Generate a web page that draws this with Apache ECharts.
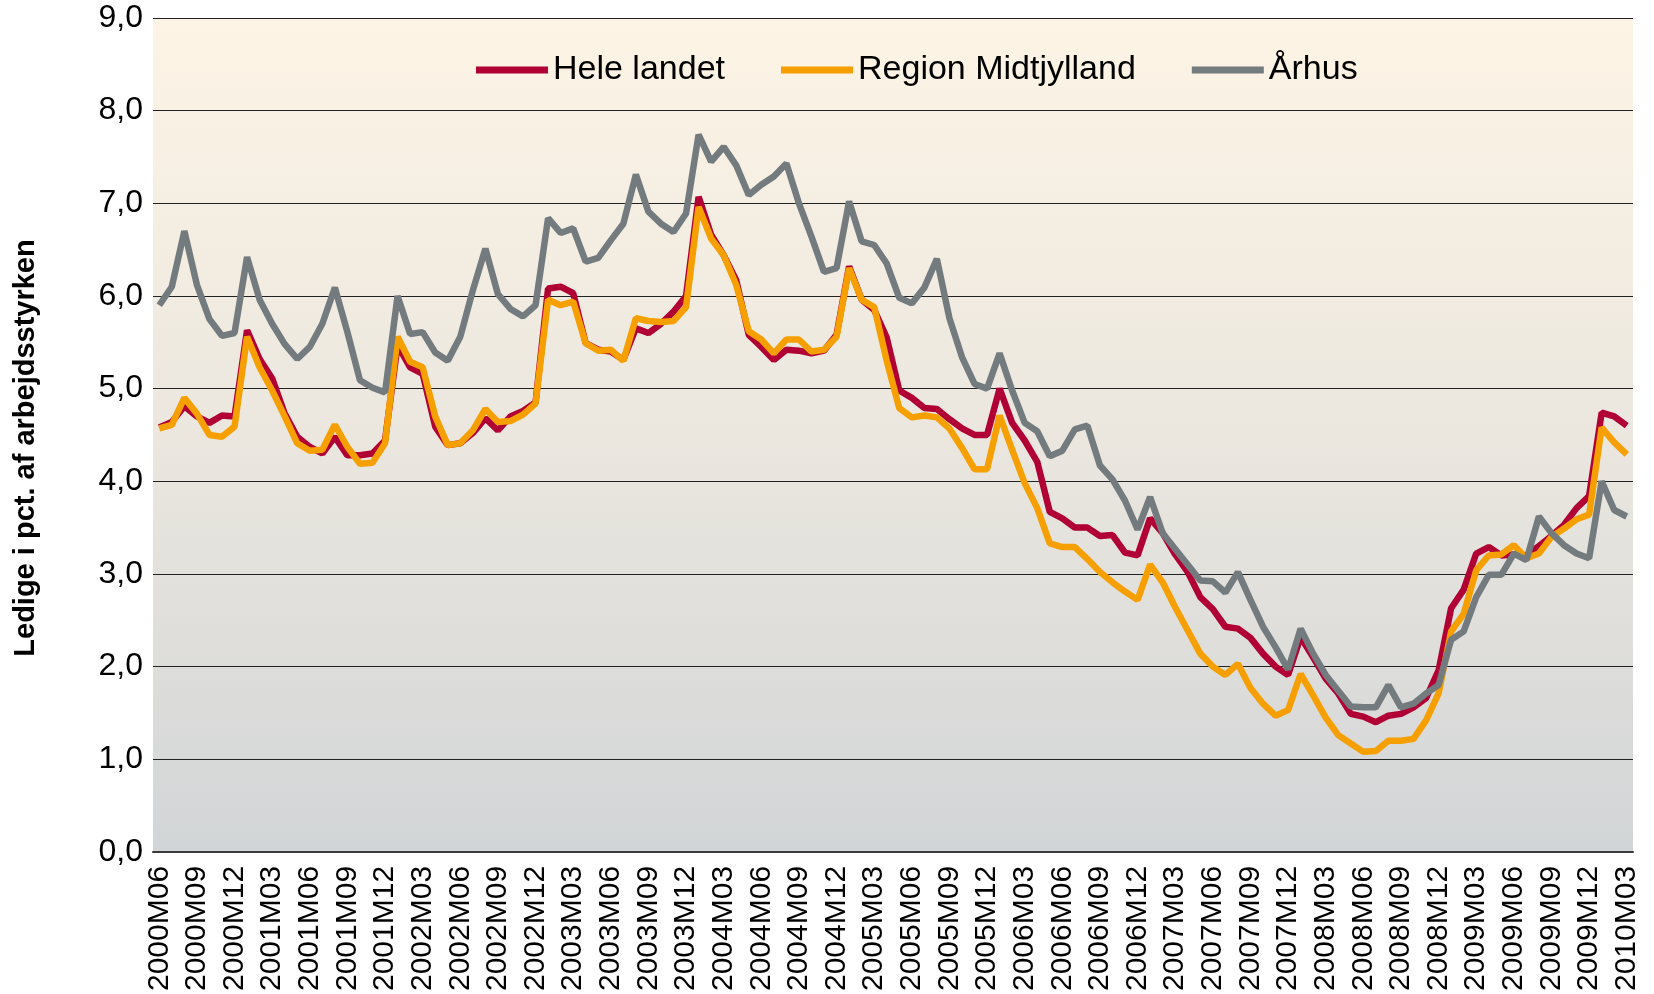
<!DOCTYPE html>
<html>
<head>
<meta charset="utf-8">
<script src="https://cdn.jsdelivr.net/npm/echarts@6/dist/echarts.min.js"></script>
<style>
  html, body { margin: 0; padding: 0; background: #fff; }
  #chart { width: 1654px; height: 994px; }
</style>
</head>
<body>
<div id="chart"></div>
<script>
// months 2000M06 .. 2010M03
var months = [];
for (var y = 2000; y <= 2010; y++) {
  for (var m = 1; m <= 12; m++) {
    if ((y === 2000 && m < 6) || (y === 2010 && m > 3)) continue;
    months.push(y + "M" + (m < 10 ? "0" + m : m));
  }
}

var heleLandet = [
  4.58, 4.64, 4.81, 4.70, 4.63, 4.71, 4.70, 5.63, 5.32, 5.11,
  4.73, 4.48, 4.37, 4.30, 4.48, 4.28, 4.28, 4.30, 4.44, 5.47,
  5.23, 5.16, 4.59, 4.39, 4.41, 4.52, 4.68, 4.55, 4.70, 4.76,
  4.85, 6.08, 6.10, 6.03, 5.49, 5.42, 5.40, 5.31, 5.65, 5.60,
  5.70, 5.83, 6.00, 7.07, 6.66, 6.44, 6.17, 5.58, 5.45, 5.31,
  5.42, 5.41, 5.38, 5.41, 5.58, 6.32, 5.96, 5.85, 5.55, 4.98,
  4.90, 4.79, 4.78, 4.67, 4.57, 4.50, 4.50, 5.00, 4.63, 4.44,
  4.21, 3.67, 3.60, 3.50, 3.50, 3.41, 3.42, 3.23, 3.20, 3.60,
  3.44, 3.21, 3.02, 2.75, 2.62, 2.43, 2.41, 2.31, 2.14, 2.00,
  1.91, 2.32, 2.10, 1.87, 1.71, 1.49, 1.46, 1.40, 1.47, 1.49,
  1.56, 1.66, 1.96, 2.63, 2.83, 3.22, 3.29, 3.20, 3.21, 3.20,
  3.30, 3.41, 3.53, 3.71, 3.84, 4.74, 4.70, 4.60
];

var regionMidtjylland = [
  4.57, 4.61, 4.90, 4.73, 4.50, 4.48, 4.59, 5.56, 5.23, 4.98,
  4.70, 4.41, 4.33, 4.34, 4.61, 4.37, 4.19, 4.20, 4.41, 5.56,
  5.29, 5.23, 4.70, 4.39, 4.41, 4.55, 4.78, 4.64, 4.65, 4.72,
  4.84, 5.96, 5.90, 5.94, 5.49, 5.41, 5.42, 5.30, 5.76, 5.73,
  5.72, 5.73, 5.88, 6.96, 6.62, 6.44, 6.12, 5.62, 5.53, 5.38,
  5.53, 5.53, 5.40, 5.42, 5.56, 6.30, 5.96, 5.88, 5.30, 4.79,
  4.69, 4.71, 4.69, 4.57, 4.36, 4.13, 4.13, 4.71, 4.34, 3.98,
  3.71, 3.33, 3.29, 3.29, 3.16, 3.02, 2.91, 2.81, 2.72, 3.10,
  2.91, 2.64, 2.39, 2.14, 2.00, 1.91, 2.03, 1.77, 1.60, 1.47,
  1.53, 1.92, 1.69, 1.45, 1.26, 1.17, 1.08, 1.09, 1.20, 1.20,
  1.22, 1.42, 1.71, 2.38, 2.57, 3.04, 3.20, 3.21, 3.31, 3.17,
  3.22, 3.40, 3.49, 3.59, 3.64, 4.58, 4.42, 4.29
];

var aarhus = [
  5.90, 6.10, 6.70, 6.12, 5.75, 5.57, 5.60, 6.42, 5.96, 5.70,
  5.48, 5.32, 5.45, 5.70, 6.09, 5.61, 5.09, 5.01, 4.96, 6.00,
  5.59, 5.61, 5.39, 5.30, 5.56, 6.06, 6.51, 6.02, 5.86, 5.78,
  5.90, 6.84, 6.68, 6.73, 6.37, 6.41, 6.60, 6.78, 7.31, 6.91,
  6.78, 6.69, 6.89, 7.74, 7.45, 7.61, 7.41, 7.09, 7.20, 7.29,
  7.43, 7.00, 6.64, 6.26, 6.30, 7.02, 6.59, 6.55, 6.35, 5.98,
  5.92, 6.09, 6.40, 5.76, 5.34, 5.05, 5.00, 5.38, 4.98, 4.63,
  4.54, 4.27, 4.33, 4.56, 4.60, 4.17, 4.02, 3.79, 3.48, 3.83,
  3.44, 3.27, 3.10, 2.93, 2.92, 2.80, 3.02, 2.72, 2.43, 2.21,
  1.97, 2.41, 2.14, 1.91, 1.74, 1.57, 1.56, 1.56, 1.80, 1.56,
  1.60, 1.71, 1.80, 2.29, 2.38, 2.75, 2.99, 2.99, 3.22, 3.15,
  3.62, 3.44, 3.31, 3.22, 3.17, 4.00, 3.69, 3.62
];

var seriesNames = ["Hele landet", "Region Midtjylland", "Århus"];
var colors = ["#B10033", "#F5A000", "#737B7F"];
var yTitle = "Ledige i pct. af arbejdsstyrken";

var font = '"Liberation Sans", Arial, sans-serif';

var chart = echarts.init(document.getElementById("chart"));

function lineSeries(name, data, color) {
  return {
    name: name,
    type: "line",
    data: data,
    symbol: "none",
    lineStyle: { color: color, width: 6.5 },
    itemStyle: { color: color }
  };
}

var option = {
  animation: false,
  color: colors,
  textStyle: { fontFamily: font },
  grid: {
    left: 153,
    right: 21,
    top: 18,
    bottom: 142,
    show: true,
    borderWidth: 0,
    backgroundColor: {
      type: "linear",
      x: 0, y: 0, x2: 0, y2: 1,
      colorStops: [
        { offset: 0, color: "#FDF4E5" },
        { offset: 0.5, color: "#EBE7DF" },
        { offset: 1, color: "#D2D5D7" }
      ]
    }
  },
  legend: {
    data: seriesNames,
    left: 471,
    top: 48,
    icon: "rect",
    itemWidth: 72,
    itemHeight: 7,
    itemGap: 56,
    textStyle: { fontFamily: font, fontSize: 34, color: "#000" }
  },
  xAxis: {
    type: "category",
    data: months,
    boundaryGap: true,
    axisLine: { show: true, lineStyle: { color: "#3a3a3a", width: 2 } },
    axisTick: { show: false },
    splitLine: { show: false },
    axisLabel: {
      interval: 2,
      rotate: 90,
      margin: 14,
      fontFamily: font,
      fontSize: 30,
      color: "#000"
    }
  },
  yAxis: {
    type: "value",
    min: 0,
    max: 9,
    interval: 1,
    axisLine: { show: false },
    axisTick: { show: false },
    splitLine: { show: true, lineStyle: { color: "#222", width: 1 } },
    axisLabel: {
      margin: 10,
      fontFamily: font,
      fontSize: 32,
      color: "#000",
      formatter: function (v) {
        return v.toFixed(1).replace(".", ",");
      }
    }
  },
  graphic: [
    {
      type: "text",
      x: 26,
      y: 448,
      rotation: Math.PI / 2,
      style: {
        text: yTitle,
        fontFamily: font,
        fontSize: 29,
        fontWeight: "bold",
        fill: "#000",
        align: "center",
        verticalAlign: "middle"
      }
    }
  ],
  series: [
    lineSeries(seriesNames[0], heleLandet, colors[0]),
    lineSeries(seriesNames[1], regionMidtjylland, colors[1]),
    lineSeries(seriesNames[2], aarhus, colors[2])
  ]
};

chart.setOption(option);
</script>
</body>
</html>
